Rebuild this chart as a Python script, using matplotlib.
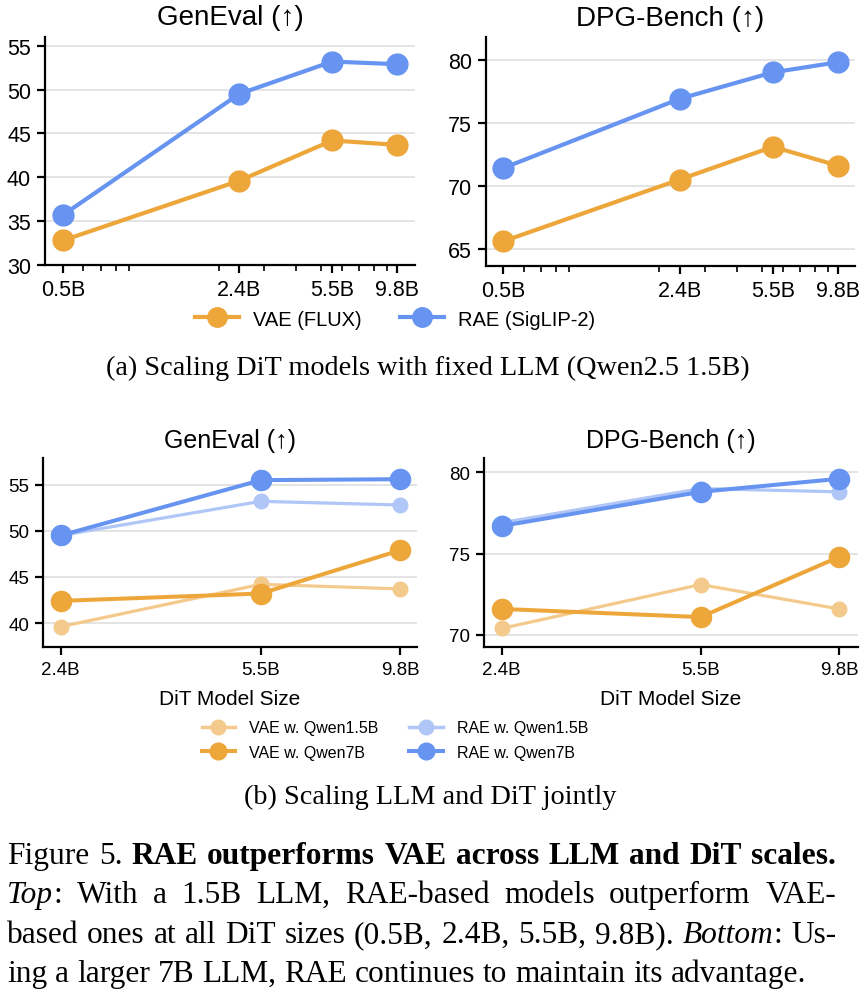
import matplotlib
matplotlib.use('Agg')
import matplotlib.pyplot as plt
from matplotlib.ticker import FixedLocator, NullLocator, NullFormatter
from matplotlib.lines import Line2D

plt.rcParams['font.family'] = ['Liberation Sans', 'DejaVu Sans']

# ---- data ----
# (a) fixed LLM (Qwen2.5 1.5B)
dit_top = [0.5, 2.4, 5.5, 9.8]
dit_top_labels = ['0.5B', '2.4B', '5.5B', '9.8B']
geneval_vae = [32.8, 39.6, 44.2, 43.7]
geneval_rae = [35.7, 49.5, 53.2, 52.9]
dpg_vae = [65.6, 70.5, 73.1, 71.6]
dpg_rae = [71.4, 76.9, 79.0, 79.8]

# (b) LLM and DiT jointly
dit_bot = [2.4, 5.5, 9.8]
dit_bot_labels = ['2.4B', '5.5B', '9.8B']
geneval_vae_q15 = [39.6, 44.2, 43.7]
geneval_vae_q7 = [42.4, 43.2, 47.9]
geneval_rae_q15 = [49.5, 53.2, 52.8]
geneval_rae_q7 = [49.5, 55.5, 55.6]
dpg_vae_q15 = [70.4, 73.1, 71.6]
dpg_vae_q7 = [71.6, 71.1, 74.8]
dpg_rae_q15 = [76.9, 79.0, 78.8]
dpg_rae_q7 = [76.7, 78.8, 79.6]

ORANGE = '#EDA63A'
BLUE = '#6694F0'
ORANGE_L = '#F4CA8C'
BLUE_L = '#AFC6F6'

W, H = 865, 995
fig = plt.figure(figsize=(W / 100, H / 100), dpi=100)


def axes_px(x0, y0, x1, y1):
    return fig.add_axes([x0 / W, 1 - y1 / H, (x1 - x0) / W, (y1 - y0) / H])


def style_ax(ax, xs, labels, xlim, ylim, yticks, minor, fs):
    ax.set_xscale('log')
    ax.set_xlim(*xlim)
    ax.set_ylim(*ylim)
    ax.xaxis.set_major_locator(FixedLocator(xs))
    ax.set_xticklabels(labels)
    if not minor:
        ax.xaxis.set_minor_locator(NullLocator())
    ax.xaxis.set_minor_formatter(NullFormatter())
    ax.set_yticks(yticks)
    for s in ['top', 'right']:
        ax.spines[s].set_visible(False)
    for s in ['left', 'bottom']:
        ax.spines[s].set_linewidth(1.6)
    ax.grid(axis='y', color='#dcdcdc', lw=1.1)
    ax.set_axisbelow(True)
    ax.tick_params(which='major', length=6, width=1.6, labelsize=fs, pad=4)
    ax.tick_params(which='minor', length=4, width=1.2)


# ---- top row ----
ax1 = axes_px(45, 38, 415, 266)
ax1.plot(dit_top, geneval_vae, '-o', color=ORANGE, lw=3, ms=15)
ax1.plot(dit_top, geneval_rae, '-o', color=BLUE, lw=3, ms=15)
style_ax(ax1, dit_top, dit_top_labels, (0.426, 11.5), (30, 56), [30, 35, 40, 45, 50, 55], True, 15.5)
ax1.set_title('GenEval (↑)', fontsize=20, pad=9)

ax2 = axes_px(486, 38, 855, 267)
ax2.plot(dit_top, dpg_vae, '-o', color=ORANGE, lw=3, ms=15)
ax2.plot(dit_top, dpg_rae, '-o', color=BLUE, lw=3, ms=15)
style_ax(ax2, dit_top, dit_top_labels, (0.43, 11.4), (63.65, 81.8), [65, 70, 75, 80], True, 15.5)
ax2.set_title('DPG-Bench (↑)', fontsize=20, pad=9)

top_handles = [Line2D([], [], color=ORANGE, lw=3, marker='o', ms=14),
               Line2D([], [], color=BLUE, lw=3, marker='o', ms=14)]
fig.legend(top_handles, ['VAE (FLUX)', 'RAE (SigLIP-2)'], loc='center',
           bbox_to_anchor=(395 / W, 1 - 320 / H), ncol=2, frameon=False,
           fontsize=14.5, handlelength=2.2, handletextpad=0.7, columnspacing=1.9)

# ---- bottom row ----
ax3 = axes_px(43, 459, 417, 648)
ax3.plot(dit_bot, geneval_vae_q15, '-o', color=ORANGE_L, lw=2.3, ms=10.5, zorder=2)
ax3.plot(dit_bot, geneval_rae_q15, '-o', color=BLUE_L, lw=2.3, ms=10.5, zorder=2)
ax3.plot(dit_bot, geneval_vae_q7, '-o', color=ORANGE, lw=2.9, ms=14.5, zorder=3)
ax3.plot(dit_bot, geneval_rae_q7, '-o', color=BLUE, lw=2.9, ms=14.5, zorder=3)
style_ax(ax3, dit_bot, dit_bot_labels, (2.23, 10.5), (37.4, 57.9), [40, 45, 50, 55], False, 13.5)
ax3.set_title('GenEval (↑)', fontsize=18, pad=8)
ax3.set_xlabel('DiT Model Size', fontsize=15, labelpad=8)

ax4 = axes_px(484, 459, 858, 648)
ax4.plot(dit_bot, dpg_vae_q15, '-o', color=ORANGE_L, lw=2.3, ms=10.5, zorder=2)
ax4.plot(dit_bot, dpg_rae_q15, '-o', color=BLUE_L, lw=2.3, ms=10.5, zorder=2)
ax4.plot(dit_bot, dpg_vae_q7, '-o', color=ORANGE, lw=2.9, ms=14.5, zorder=3)
ax4.plot(dit_bot, dpg_rae_q7, '-o', color=BLUE, lw=2.9, ms=14.5, zorder=3)
style_ax(ax4, dit_bot, dit_bot_labels, (2.23, 10.6), (69.26, 80.88), [70, 75, 80], False, 13.5)
ax4.set_title('DPG-Bench (↑)', fontsize=18, pad=8)
ax4.set_xlabel('DiT Model Size', fontsize=15, labelpad=8)

bot_handles = [Line2D([], [], color=ORANGE_L, lw=2.5, marker='o', ms=10.5),
               Line2D([], [], color=ORANGE, lw=2.9, marker='o', ms=12),
               Line2D([], [], color=BLUE_L, lw=2.5, marker='o', ms=10.5),
               Line2D([], [], color=BLUE, lw=2.9, marker='o', ms=12)]
fig.legend(bot_handles, ['VAE w. Qwen1.5B', 'VAE w. Qwen7B', 'RAE w. Qwen1.5B', 'RAE w. Qwen7B'],
           loc='center', bbox_to_anchor=(395 / W, 1 - 741 / H), ncol=2, frameon=False,
           fontsize=11.5, handlelength=2.1, handletextpad=0.9, columnspacing=1.9,
           labelspacing=0.6)

# ---- captions ----
SERIF = ['Liberation Serif', 'DejaVu Serif']
fig.text(428 / W, 1 - 368 / H, '(a) Scaling DiT models with fixed LLM (Qwen2.5 1.5B)',
         family=SERIF, fontsize=20.3, ha='center', va='center')
fig.text(430 / W, 1 - 797 / H, '(b) Scaling LLM and DiT jointly',
         family=SERIF, fontsize=20.3, ha='center', va='center')

R = 'normal'
B = 'bold'
I = 'italic'
cap_lines = [
    [[('Figure', R)], [('5.', R)], [('RAE', B)], [('outperforms', B)], [('VAE', B)],
     [('across', B)], [('LLM', B)], [('and', B)], [('DiT', B)], [('scales.', B)]],
    [[('Top', I), (':', R)], [('With', R)], [('a', R)], [('1.5B', R)], [('LLM,', R)],
     [('RAE-based', R)], [('models', R)], [('outperform', R)], [('VAE-', R)]],
    [[('based', R)], [('ones', R)], [('at', R)], [('all', R)], [('DiT', R)], [('sizes', R)],
     [('(0.5B,', R)], [('2.4B,', R)], [('5.5B,', R)], [('9.8B).', R)],
     [('Bottom', I), (':', R)], [('Us-', R)]],
    [[('ing', R)], [('a', R)], [('larger', R)], [('7B', R)], [('LLM,', R)], [('RAE', R)],
     [('continues', R)], [('to', R)], [('maintain', R)], [('its', R)], [('advantage.', R)]],
]
cap_baselines = [864, 903, 943, 982]
cap_justify = [True, True, True, False]
x_left, x_right = 7, 836
cap_fs = 22.6

renderer = fig.canvas.get_renderer()
for words, yb, just in zip(cap_lines, cap_baselines, cap_justify):
    pieces = []
    widths = []
    for word in words:
        arts = []
        wsum = 0
        for txt, sty in word:
            kw = dict(family=SERIF, fontsize=cap_fs, va='baseline', ha='left')
            if sty == B:
                kw['weight'] = 'bold'
            if sty == I:
                kw['style'] = 'italic'
            t = fig.text(0, 1 - yb / H, txt, **kw)
            w = t.get_window_extent(renderer).width
            arts.append((t, w))
            wsum += w
        pieces.append(arts)
        widths.append(wsum)
    if just:
        gap = (x_right - x_left - sum(widths)) / (len(words) - 1)
    else:
        sp = fig.text(0, 0, 'a a', family=SERIF, fontsize=cap_fs)
        sp2 = fig.text(0, 0, 'aa', family=SERIF, fontsize=cap_fs)
        gap = sp.get_window_extent(renderer).width - sp2.get_window_extent(renderer).width
        sp.remove()
        sp2.remove()
    x = x_left
    for arts, w in zip(pieces, widths):
        xx = x
        for t, tw in arts:
            t.set_x(xx / W)
            xx += tw
        x += w + gap

fig.savefig('out.png', dpi=100)
